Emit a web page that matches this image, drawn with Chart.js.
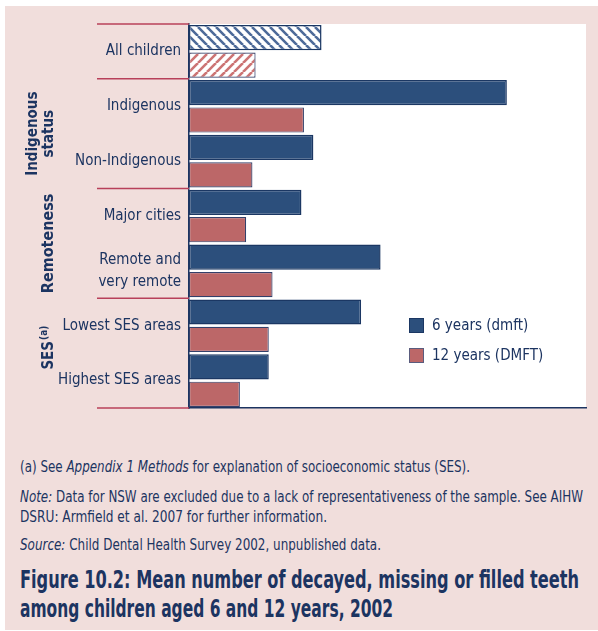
<!DOCTYPE html>
<html>
<head>
<meta charset="utf-8">
<script src="https://cdn.jsdelivr.net/npm/chart.js@4.4.1/dist/chart.umd.min.js"></script>
<style>
  html, body { margin:0; padding:0; background:#ffffff; }
  body { width:598px; height:631px; position:relative; overflow:hidden;
         font-family:"DejaVu Sans Condensed","Liberation Sans Narrow",sans-serif; color:#1c3461; }
  #panel { position:absolute; left:5px; top:6px; width:593px; height:624px; background:#f1dedc; }
  #wrap { position:absolute; left:0; top:0; width:598px; height:420px; }
  .ln { position:absolute; left:20px; white-space:nowrap; transform-origin:0 50%; display:inline-block; }
  .fn { font-size:15px; line-height:20px; }
  .title { font-size:24px; line-height:29px; font-weight:bold; }
</style>
</head>
<body>
<div id="panel"></div>
<div id="wrap"><canvas id="c" width="598" height="420"></canvas></div>
<div class="ln fn" data-w="450" style="top:457px">(a) See <i>Appendix 1 Methods</i> for explanation of socioeconomic status (SES).</div>
<div class="ln fn" data-w="563" style="top:487px"><i>Note:</i> Data for NSW are excluded due to a lack of representativeness of the sample. See AIHW</div>
<div class="ln fn" data-w="307" style="top:507px">DSRU: Armfield et al. 2007 for further information.</div>
<div class="ln fn" data-w="361" style="top:535px"><i>Source:</i> Child Dental Health Survey 2002, unpublished data.</div>
<div class="ln title" data-w="559" style="top:566px">Figure 10.2: Mean number of decayed, missing or filled teeth</div>
<div class="ln title" data-w="373" style="top:595px">among children aged 6 and 12 years, 2002</div>
<script>
// ---- data ----
const categories = ["All children", "Indigenous", "Non-Indigenous", "Major cities", ["Remote and", "very remote"], "Lowest SES areas", "Highest SES areas"];
const seriesNames = ["6 years (dmft)", "12 years (DMFT)"];
const age6 = [2.11, 5.06, 1.98, 1.79, 3.05, 2.74, 1.27];
const age12 = [1.06, 1.83, 1.01, 0.91, 1.33, 1.27, 0.81];
const groupNames = [["Indigenous", "status"], ["Remoteness"], ["SES"]];
const groupRanges = [[1, 2], [3, 4], [5, 6]];
const xMax = 6.32;

// fit the condensed text lines to the reference widths
document.querySelectorAll(".ln").forEach(el => {
  const w = el.getBoundingClientRect().width;
  const t = parseFloat(el.dataset.w);
  el.style.transform = "scaleX(" + (t / w) + ")";
});

// ---- styles ----
const NAVY = "#1c3461";
const BLUE = "#2c4f7c";
const RED = "#bc6768";
const FONT = '"DejaVu Sans Condensed",sans-serif';

function stripes(color, dir) {
  const s = 9;
  const c = document.createElement("canvas");
  c.width = s; c.height = s;
  const g = c.getContext("2d");
  g.fillStyle = "#ffffff"; g.fillRect(0, 0, s, s);
  g.strokeStyle = color; g.lineWidth = 2.6;
  g.beginPath();
  if (dir === "\\") {
    for (let k = -1; k <= 1; k++) { g.moveTo(k * s, 0); g.lineTo(k * s + s, s); }
  } else {
    for (let k = -1; k <= 1; k++) { g.moveTo(k * s, s); g.lineTo(k * s + s, 0); }
  }
  g.stroke();
  return document.getElementById("c").getContext("2d").createPattern(c, "repeat");
}

const bg6 = age6.map((v, i) => i === 0 ? stripes("#4d6a99", "\\") : BLUE);
const bg12 = age12.map((v, i) => i === 0 ? stripes("#cc7474", "/") : RED);

const decor = {
  id: "decor",
  beforeDraw(chart) {
    const { ctx, chartArea: a } = chart;
    ctx.save();
    ctx.fillStyle = "#ffffff";
    ctx.fillRect(a.left, a.top, a.right - a.left, a.bottom - a.top);
    ctx.restore();
  },
  afterDraw(chart) {
    const { ctx, chartArea: a } = chart;
    const y = chart.scales.y;
    const bnd = (i) => (y.getPixelForValue(i) + y.getPixelForValue(i + 1)) / 2;
    const lines = [a.top, bnd(0), bnd(2), bnd(4), a.bottom];
    ctx.save();
    ctx.strokeStyle = "#b8405a"; ctx.lineWidth = 1.5;
    lines.forEach(py => { ctx.beginPath(); ctx.moveTo(97, py); ctx.lineTo(a.left, py); ctx.stroke(); });
    // group labels
    ctx.fillStyle = NAVY;
    ctx.textAlign = "center"; ctx.textBaseline = "middle";
    groupRanges.forEach((r, gi) => {
      const top = bnd(r[0] - 1);
      const bot = r[1] === categories.length - 1 ? a.bottom : bnd(r[1]);
      const cy = (top + bot) / 2;
      const names = groupNames[gi];
      ctx.save();
      ctx.translate(names.length === 2 ? 41 : 49, cy);
      ctx.rotate(-Math.PI / 2);
      ctx.font = "bold 15px " + FONT;
      if (names.length === 2) {
        ctx.fillText(names[0], 0, -8);
        ctx.fillText(names[1], 0, 8);
      } else if (names[0] === "SES") {
        const w = ctx.measureText("SES").width;
        ctx.font = "bold 10px " + FONT;
        const w2 = ctx.measureText("(a)").width;
        const start = -(w + w2) / 2 + 5;
        ctx.font = "bold 15px " + FONT;
        ctx.textAlign = "left";
        ctx.fillText("SES", start, 0);
        ctx.font = "bold 10px " + FONT;
        ctx.fillText("(a)", start + w + 1, -5);
      } else {
        ctx.font = "bold 16px " + FONT;
        ctx.fillText(names[0], 0, 0);
      }
      ctx.restore();
    });
    // legend
    const lx = 409, ly = [318, 348];
    [BLUE, RED].forEach((col, i) => {
      ctx.fillStyle = col;
      ctx.fillRect(lx, ly[i], 15, 15);
      ctx.strokeStyle = i === 0 ? "#1b3763" : "#5a5c7e";
      ctx.lineWidth = 1;
      ctx.strokeRect(lx + 0.5, ly[i] + 0.5, 14, 14);
      ctx.fillStyle = NAVY;
      ctx.font = "15px " + FONT;
      ctx.textAlign = "left"; ctx.textBaseline = "middle";
      ctx.fillText(seriesNames[i], 432, ly[i] + 8);
    });
    ctx.restore();
  }
};

new Chart(document.getElementById("c"), {
  type: "bar",
  data: {
    labels: categories,
    datasets: [
      { label: seriesNames[0], data: age6, backgroundColor: bg6, borderColor: "#1b3763", borderWidth: 1.5, borderSkipped: false },
      { label: seriesNames[1], data: age12, backgroundColor: bg12, borderColor: "#33406a", borderWidth: 1.2, borderSkipped: false }
    ]
  },
  options: {
    indexAxis: "y",
    responsive: false,
    animation: false,
    devicePixelRatio: 1,
    layout: { padding: { top: 24, right: 12, left: 0, bottom: 0 } },
    datasets: { bar: { categoryPercentage: 1.0, barPercentage: 0.92 } },
    plugins: { legend: { display: false }, tooltip: { enabled: false } },
    scales: {
      x: {
        min: 0, max: xMax,
        ticks: { display: false },
        grid: { display: false },
        border: { display: true, color: NAVY, width: 1.5 },
        afterFit(s) { s.height = 12; }
      },
      y: {
        ticks: { color: NAVY, font: { family: FONT, size: 15, lineHeight: 1.45 }, padding: 0 },
        grid: { display: false },
        border: { display: true, color: NAVY, width: 1.5 },
        afterFit(s) { s.width = 189; }
      }
    }
  },
  plugins: [decor]
});
</script>
</body>
</html>
